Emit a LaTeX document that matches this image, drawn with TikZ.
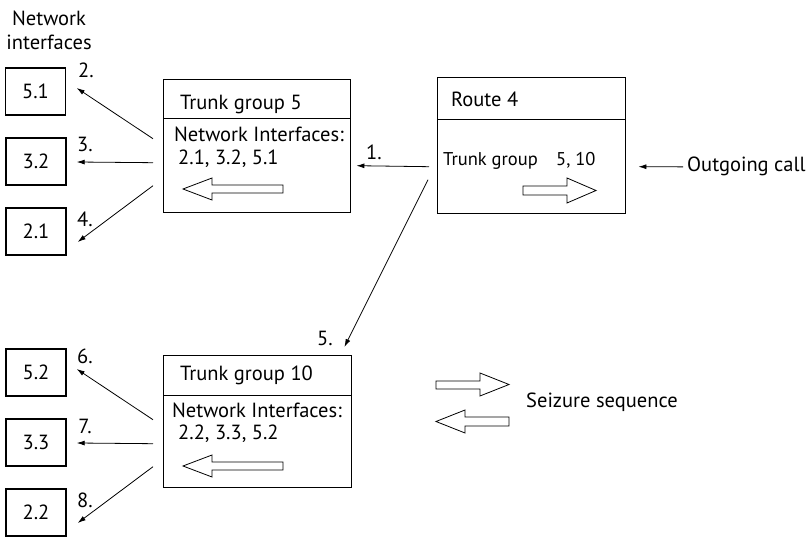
\documentclass[tikz,border=0pt]{standalone}
\usepackage{fontspec}
\setmainfont{PT Sans}
\usetikzlibrary{arrows.meta}
\begin{document}
\begin{tikzpicture}[x=1pt,y=-1pt,
  box/.style={draw, line width=1.4pt, inner sep=0pt, anchor=north west},
  nibox/.style={draw, line width=1.4pt, inner sep=0pt, minimum width=60pt, minimum height=47pt, font=\fontsize{20.5}{23}\selectfont},
  txt/.style={font=\fontsize{20.5}{23}\selectfont, inner sep=0pt, anchor=base west},
  smalltxt/.style={font=\fontsize{18.5}{21}\selectfont, inner sep=0pt, anchor=base west},
  num/.style={font=\fontsize{20.5}{23}\selectfont, inner sep=0pt},
  conn/.style={line width=0.8pt, -{Latex[length=8pt,width=5pt]}},
  hollow/.style={draw, line width=0.8pt, fill=white, line join=miter}]
\useasboundingbox (0,0) rectangle (807,537);

% header
\node[num, align=center] (hdr) at (49,30) {Network\\[1pt]interfaces};

% network interface boxes
\node[nibox] (n51) at (35.5,91.5) {5.1};
\node[nibox] (n32) at (36,161.5) {3.2};
\node[nibox] (n21) at (36,231.5) {2.1};
\node[nibox] (n52) at (36,372.5) {5.2};
\node[nibox] (n33) at (36,442.5) {3.3};
\node[nibox] (n22) at (36,512.5) {2.2};

% trunk group 5
\node[box, minimum width=187pt, minimum height=39pt] (tg5t) at (163,79) {};
\node[box, minimum width=187pt, minimum height=94pt] (tg5b) at (163,118) {};
\node[txt] (tg5title) at (180,110) {Trunk group 5};
\node[txt] (tg5ni) at (174,142) {Network Interfaces:};
\node[txt] (tg5list) at (178,165) {2.1, 3.2, 5.1};
\draw[hollow] (183,189) -- (212,178) -- (212,185) -- (283,185) -- (283,193) -- (212,193) -- (212,200) -- cycle;

% trunk group 10
\node[box, minimum width=188pt, minimum height=40pt] (tg10t) at (163,355) {};
\node[box, minimum width=188pt, minimum height=92pt] (tg10b) at (163,395) {};
\node[txt] (tg10title) at (180,381) {Trunk group 10};
\node[txt] (tg10ni) at (172,418) {Network Interfaces:};
\node[txt] (tg10list) at (178,440) {2.2, 3.3, 5.2};
\draw[hollow] (183,466) -- (212,455) -- (212,462) -- (283,462) -- (283,470) -- (212,470) -- (212,477) -- cycle;

% route 4
\node[box, minimum width=188pt, minimum height=42pt] (r4t) at (437,77) {};
\node[box, minimum width=188pt, minimum height=94pt] (r4b) at (437,119) {};
\node[txt] (r4title) at (451,107) {Route 4};
\node[smalltxt] (r4tg) at (443,166) {Trunk group};
\node[smalltxt] (r4list) at (556,166) {5, 10};
\draw[hollow] (596,190.5) -- (567,178) -- (567,186) -- (523,186) -- (523,195) -- (567,195) -- (567,203) -- cycle;

% outgoing call
\node[txt] (oc) at (687,172) {Outgoing call};
\draw[conn] ([xshift=-4pt]oc.west) -- ([xshift=12pt]r4b.east);

% connectors
\draw[conn] ([xshift=-8pt]r4b.west) -- ([xshift=5pt]tg5b.east);
\node[num] (l1) at (374,152) {1.};
\draw[conn] ([shift={(-9,13)}]r4b.west) -- ([shift={(-8,-8)}]tg10t.north east);
\node[num] (l5) at (325,338) {5.};

\draw[conn] ([shift={(-10,-27)}]tg5b.west) -- ([shift={(10.5,-3.5)}]n51.east);
\draw[conn] ([shift={(-10,-3)}]tg5b.west) -- ([shift={(10,0.5)}]n32.east);
\draw[conn] ([shift={(-10,20)}]tg5b.west) -- ([shift={(11,10.5)}]n21.east);
\node[num] (l2) at (86,70) {2.};
\node[num] (l3) at (85,144) {3.};
\node[num] (l4) at (85,219) {4.};

\draw[conn] ([shift={(-10,-22)}]tg10b.west) -- ([shift={(10,-3.5)}]n52.east);
\draw[conn] ([shift={(-10,2)}]tg10b.west) -- ([shift={(10,0.5)}]n33.east);
\draw[conn] ([shift={(-10,25)}]tg10b.west) -- ([shift={(11,10.5)}]n22.east);
\node[num] (l6) at (85,356) {6.};
\node[num] (l7) at (85,426) {7.};
\node[num] (l8) at (85,500) {8.};

% legend
\draw[hollow] (509,384.5) -- (480,373) -- (480,381) -- (436,381) -- (436,389) -- (480,389) -- (480,396) -- cycle;
\draw[hollow] (436,421.5) -- (465,410) -- (465,417) -- (509,417) -- (509,426) -- (465,426) -- (465,433) -- cycle;
\node[txt] (seize) at (526,408) {Seizure sequence};
\end{tikzpicture}
\end{document}
